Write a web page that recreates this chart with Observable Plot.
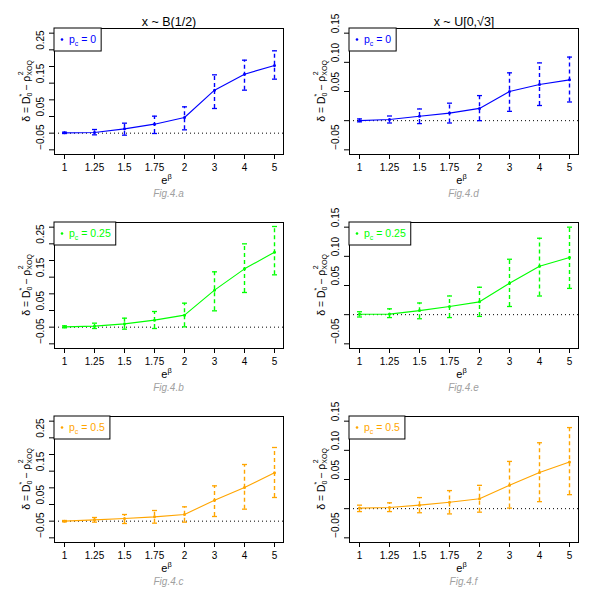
<!DOCTYPE html>
<html><head><meta charset="utf-8">
<script src="https://cdn.jsdelivr.net/npm/d3@7"></script>
<script src="https://cdn.jsdelivr.net/npm/@observablehq/plot@0.6"></script>
<style>
body{margin:0;background:#fff;}
#wrap{position:relative;width:600px;height:599px;background:#fff;font-family:"Liberation Sans",Arial,Helvetica,sans-serif;}
#wrap svg{position:absolute;overflow:visible;}
</style></head><body><div id="wrap"></div>
<script>
// x categories (e^beta)
const categories = ["1","1.25","1.5","1.75","2","3","4","5"];

// Panel a: x ~ B(1/2), pc = 0
const meanA = [0.001, 0.002, 0.013, 0.027, 0.047, 0.129, 0.177, 0.203];
const lowA  = [-0.001, -0.005, -0.006, -0.001, 0.010, 0.074, 0.129, 0.162];
const highA = [0.003, 0.011, 0.030, 0.051, 0.079, 0.175, 0.219, 0.247];
// Panel b: x ~ B(1/2), pc = 0.25
const meanB = [0.001, 0.003, 0.010, 0.021, 0.036, 0.111, 0.175, 0.225];
const lowB  = [-0.002, -0.004, -0.006, -0.004, 0.001, 0.049, 0.104, 0.157];
const highB = [0.004, 0.012, 0.027, 0.047, 0.072, 0.166, 0.250, 0.302];
// Panel c: x ~ B(1/2), pc = 0.5
const meanC = [0.000, 0.004, 0.008, 0.013, 0.020, 0.063, 0.101, 0.145];
const lowC  = [-0.002, -0.003, -0.007, -0.006, -0.003, 0.014, 0.036, 0.071];
const highC = [0.002, 0.011, 0.020, 0.032, 0.043, 0.106, 0.170, 0.221];
// Panel d: x ~ U[0,sqrt3], pc = 0
const meanD = [0.000, 0.002, 0.0075, 0.013, 0.021, 0.050, 0.062, 0.070];
const lowD  = [-0.002, -0.004, -0.005, -0.004, 0.000, 0.016, 0.026, 0.032];
const highD = [0.003, 0.008, 0.020, 0.030, 0.043, 0.082, 0.099, 0.109];
// Panel e: x ~ U[0,sqrt3], pc = 0.25
const meanE = [0.0006, 0.001, 0.007, 0.014, 0.022, 0.054, 0.083, 0.098];
const lowE  = [-0.004, -0.005, -0.007, -0.005, -0.003, 0.014, 0.032, 0.045];
const highE = [0.005, 0.010, 0.020, 0.032, 0.047, 0.095, 0.131, 0.150];
// Panel f: x ~ U[0,sqrt3], pc = 0.5
const meanF = [0.001, 0.002, 0.006, 0.011, 0.017, 0.040, 0.062, 0.080];
const lowF  = [-0.005, -0.005, -0.007, -0.009, -0.006, 0.001, 0.012, 0.024];
const highF = [0.006, 0.010, 0.019, 0.031, 0.040, 0.081, 0.113, 0.139];

// axis settings
const ylimLeft = [-0.05, 0.30];
const ylimRight = [-0.05, 0.15];
const yTicksLeft = [-0.05, 0, 0.05, 0.10, 0.15, 0.20, 0.25, 0.30];
const yLabelsLeft = [-0.05, 0.05, 0.15, 0.25];
const yTicksRight = [-0.05, 0, 0.05, 0.10, 0.15];
const yLabelsRight = [-0.05, 0.05, 0.10, 0.15];
const titles = ["x ~ B(1/2)", "x ~ U[0,\u221A3]"];
const pcLabels = ["0", "0.25", "0.5"];
const colors = ["#0000FF", "#00FF00", "#FFA500"];
const figLabels = [["Fig.4.a","Fig.4.b","Fig.4.c"],["Fig.4.d","Fig.4.e","Fig.4.f"]];

const series = [
  [[meanA, lowA, highA], [meanB, lowB, highB], [meanC, lowC, highC]],
  [[meanD, lowD, highD], [meanE, lowE, highE], [meanF, lowF, highF]]
];

const expand = ([a, b]) => { const d = (b - a) * 0.04; return [a - d, b + d]; };
const fmt = d => (d < 0 ? "\u2212" : "") + Math.abs(d).toFixed(2);
const cap = { draw(ctx) { ctx.moveTo(-2.5, 0); ctx.lineTo(2.5, 0); } };

const wrap = document.getElementById("wrap");
const ROWH = 194;
const MT = 28, MB = 46, H = 200;
const font = "Liberation Sans, Arial, Helvetica, sans-serif";

for (let col = 0; col < 2; col++) {
  for (let row = 0; row < 3; row++) {
    const [mean, low, high] = series[col][row];
    const rows = categories.map((c, i) => ({cat: c, mean: mean[i], low: low[i], high: high[i]}));
    const color = colors[row];
    const ml = col === 0 ? 54 : 49, mr = col === 0 ? 17 : 22;
    const yTicks = col === 0 ? yTicksLeft : yTicksRight;
    const yLabels = col === 0 ? yLabelsLeft : yLabelsRight;
    const marks = [
      Plot.ruleY([0], {stroke: "black", strokeDasharray: "1,3", strokeWidth: 1}),
      Plot.ruleX(rows, {x: "cat", y1: "low", y2: "high", stroke: color, strokeDasharray: "4,3", strokeWidth: 1.4}),
      Plot.dot(rows, {x: "cat", y: "low", symbol: cap, r: 3, stroke: color, strokeWidth: 1.3, fill: "none"}),
      Plot.dot(rows, {x: "cat", y: "high", symbol: cap, r: 3, stroke: color, strokeWidth: 1.3, fill: "none"}),
      Plot.line(rows, {x: "cat", y: "mean", stroke: color, strokeWidth: 1.1}),
      Plot.dot(rows, {x: "cat", y: "mean", r: 1.5, fill: color}),
      Plot.frame({stroke: "black"}),
      Plot.axisX({tickSize: 5, tickPadding: 4, fontSize: 10, label: null}),
      Plot.axisY({ticks: yTicks, tickSize: 5, tickFormat: () => "", label: null}),
      Plot.text(yLabels, {y: d => d, frameAnchor: "left", dx: -14, rotate: -90, text: fmt, fontSize: 10, fill: "black"})
    ];
    if (row === 0) {
      marks.push(Plot.text([titles[col]], {text: d => d, frameAnchor: "top", dy: -11, fontSize: 12.5, fill: "black"}));
    }
    const svg = Plot.plot({
      width: 300, height: H,
      marginLeft: ml, marginRight: mr, marginTop: MT, marginBottom: MB,
      style: {background: "transparent", overflow: "visible", fontFamily: font, color: "black"},
      x: {type: "point", domain: categories, padding: 0.28},
      y: {domain: expand(col === 0 ? ylimLeft : ylimRight)},
      marks
    });
    svg.style.left = (col * 300) + "px";
    svg.style.top = (row * ROWH) + "px";
    wrap.appendChild(svg);

    const s = d3.select(svg);
    const fx0 = ml, fx1 = 300 - mr, fy0 = MT, fy1 = H - MB;
    const cx = (fx0 + fx1) / 2;

    // y title
    const yt = s.append("text")
      .attr("transform", `translate(${fx0 - 27},${(fy0 + fy1) / 2}) rotate(-90)`)
      .attr("text-anchor", "middle").attr("dominant-baseline", "middle")
      .attr("font-size", 10.5).attr("font-family", font).attr("fill", "black");
    yt.append("tspan").text("\u03B4 = D");
    yt.append("tspan").attr("font-size", 7).attr("dy", 2.5).text("0");
    yt.append("tspan").attr("font-size", 7).attr("dx", -3.9).attr("dy", -7.5).text("*");
    yt.append("tspan").attr("dy", 5).text(" \u2212 \u03C1");
    yt.append("tspan").attr("font-size", 7).attr("dy", 3).text("XOQ");
    yt.append("tspan").attr("font-size", 7).attr("dx", -15).attr("dy", -9).text("2");

    // x title e^beta
    const xt = s.append("text").attr("x", cx - 2).attr("y", fy1 + 30)
      .attr("text-anchor", "middle").attr("font-size", 11).attr("font-family", font).attr("fill", "black");
    xt.append("tspan").text("e");
    xt.append("tspan").attr("font-size", 7.5).attr("dy", -5).text("\u03B2");

    // figure label
    s.append("text").attr("x", cx).attr("y", fy1 + 43)
      .attr("text-anchor", "middle").attr("font-size", 10).attr("font-style", "italic")
      .attr("font-family", font).attr("fill", "#a0a0a0").text(figLabels[col][row]);

    // legend
    const lg = s.append("g");
    const rect = lg.append("rect").attr("x", fx0).attr("y", fy0).attr("height", 23)
      .attr("fill", "white").attr("stroke", "black").attr("stroke-width", 1);
    lg.append("circle").attr("cx", fx0 + 8).attr("cy", fy0 + 11.5).attr("r", 1.3).attr("fill", color);
    const lt = lg.append("text").attr("x", fx0 + 15).attr("y", fy0 + 15)
      .attr("text-anchor", "start")
      .attr("font-size", 10.5).attr("font-family", font).attr("fill", color);
    lt.append("tspan").text("p");
    lt.append("tspan").attr("font-size", 7).attr("dy", 2.5).text("c");
    lt.append("tspan").attr("dy", -2.5).text(" = " + pcLabels[row]);
    const w = lt.node().getComputedTextLength();
    rect.attr("width", 15 + w + 5);
  }
}
</script></body></html>
